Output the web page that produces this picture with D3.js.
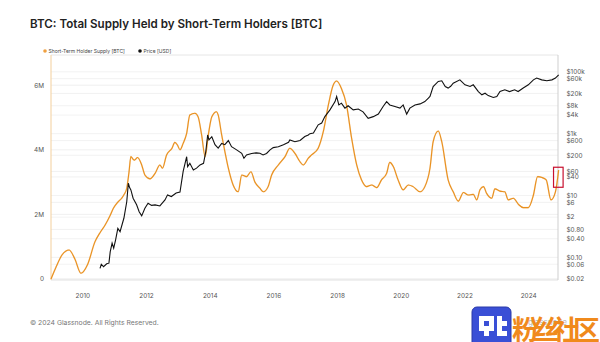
<!DOCTYPE html>
<html><head><meta charset="utf-8">
<script src="https://cdn.jsdelivr.net/npm/d3@7"></script>
<style>body{margin:0;background:#fff;}svg{display:block;font-family:Inter,"Noto Sans",sans-serif;}</style>
</head><body>
<svg id="c" width="600" height="342"></svg>
<script>
// Short-Term Holder Supply (millions BTC), by decimal year
const sthYears = [2009.0,2009.15,2009.35,2009.57,2009.75,2009.94,2010.15,2010.38,2010.55,2010.70,2010.85,2010.96,2011.10,2011.22,2011.30,2011.38,2011.45,2011.51,2011.57,2011.62,2011.72,2011.85,2011.95,2012.11,2012.27,2012.42,2012.50,2012.63,2012.80,2012.89,2012.97,2013.05,2013.15,2013.26,2013.36,2013.52,2013.62,2013.73,2013.84,2013.94,2014.05,2014.20,2014.25,2014.36,2014.47,2014.57,2014.72,2014.88,2014.99,2015.14,2015.28,2015.40,2015.56,2015.67,2015.82,2015.93,2016.14,2016.35,2016.50,2016.66,2016.82,2016.92,2017.08,2017.18,2017.39,2017.55,2017.71,2017.86,2017.97,2018.12,2018.28,2018.44,2018.60,2018.75,2018.91,2019.07,2019.23,2019.38,2019.54,2019.64,2019.75,2019.90,2020.06,2020.22,2020.37,2020.59,2020.74,2020.90,2021.00,2021.16,2021.27,2021.47,2021.63,2021.79,2021.95,2022.10,2022.26,2022.37,2022.47,2022.58,2022.68,2022.84,2022.94,2023.10,2023.25,2023.36,2023.52,2023.68,2023.83,2023.99,2024.15,2024.28,2024.42,2024.55,2024.70,2024.84,2024.94];
const sthValues = [0.0,0.35,0.75,0.90,0.62,0.18,0.45,1.15,1.45,1.67,1.95,2.19,2.38,2.50,2.62,2.81,3.30,3.79,3.72,3.68,3.76,3.53,3.22,3.10,3.27,3.53,3.43,3.84,4.05,4.23,4.15,4.00,4.20,4.51,5.08,5.13,5.02,4.46,3.79,4.46,5.02,5.18,5.08,4.46,3.90,3.43,2.91,2.70,3.22,3.17,3.32,3.01,2.81,2.70,2.86,3.22,3.53,3.79,4.05,3.89,3.63,3.53,3.74,3.84,4.05,4.56,5.39,6.00,6.13,5.90,5.39,4.36,3.53,3.07,2.86,2.91,2.83,3.07,3.27,3.61,3.48,3.07,2.76,2.91,2.86,2.70,2.86,3.43,4.25,4.58,4.25,3.07,2.70,2.41,2.68,2.60,2.62,2.45,2.76,2.86,2.65,2.50,2.79,2.72,2.70,2.45,2.50,2.31,2.21,2.21,2.60,3.17,3.14,3.07,2.45,2.70,3.37];

// Price (USD), by decimal year
const priceYears = [2010.54,2010.58,2010.65,2010.75,2010.82,2010.86,2010.92,2010.97,2011.03,2011.10,2011.17,2011.29,2011.38,2011.43,2011.47,2011.51,2011.58,2011.69,2011.77,2011.85,2011.95,2012.05,2012.16,2012.27,2012.42,2012.58,2012.66,2012.78,2012.93,2013.05,2013.15,2013.26,2013.29,2013.36,2013.47,2013.57,2013.68,2013.79,2013.86,2013.92,2013.96,2014.05,2014.15,2014.25,2014.36,2014.46,2014.57,2014.67,2014.83,2014.99,2015.06,2015.14,2015.30,2015.45,2015.56,2015.66,2015.77,2015.88,2015.98,2016.14,2016.30,2016.46,2016.50,2016.66,2016.82,2016.97,2017.08,2017.13,2017.24,2017.39,2017.50,2017.60,2017.76,2017.92,2017.97,2018.04,2018.12,2018.23,2018.33,2018.49,2018.65,2018.80,2018.96,2019.12,2019.28,2019.43,2019.54,2019.64,2019.80,2019.96,2020.06,2020.17,2020.27,2020.43,2020.59,2020.74,2020.85,2020.90,2021.00,2021.16,2021.27,2021.38,2021.47,2021.55,2021.63,2021.84,2022.00,2022.16,2022.26,2022.42,2022.53,2022.63,2022.73,2022.89,2023.00,2023.10,2023.25,2023.40,2023.56,2023.67,2023.83,2023.99,2024.15,2024.25,2024.41,2024.57,2024.73,2024.84,2024.94];
const priceValues = [0.044,0.06,0.05,0.062,0.065,0.15,0.29,0.2,0.37,0.87,0.68,1.84,6.3,25,18,15.2,8.2,5.0,3.0,2.2,3.9,5.6,4.8,5.0,4.6,7.2,10.5,9.3,12,13,60,180,86,110,67,77,98,110,260,910,630,800,440,340,485,440,600,380,300,233,160,205,230,240,233,205,230,300,355,380,440,525,630,550,600,810,910,1000,1050,1930,2200,3560,5870,10900,15900,8500,9700,6700,8000,5870,6300,5100,3150,3560,4300,7600,10900,8500,7600,6700,8500,4300,6700,8500,9200,10900,14100,16000,33500,49000,51500,33500,29800,34000,43000,55000,38000,33500,38000,23000,18000,20300,17000,14800,16000,23000,26300,23000,26300,23000,30000,38000,55000,63000,55000,51500,55000,63000,80000];

const yearTicks = [2010,2012,2014,2016,2018,2020,2022,2024];
const leftTicks = [0,2,4,6];
const leftTickLabels = ["0","2M","4M","6M"];
const priceTicks = [100000,60000,20000,8000,4000,1000,600,200,60,40,10,6,2,0.8,0.4,0.1,0.06,0.02];
const priceTickLabels = ["$100k","$60k","$20k","$8k","$4k","$1k","$600","$200","$60","$40","$10","$6","$2","$0.80","$0.40","$0.10","$0.06","$0.02"];

const svg = d3.select("#c");
const L = 51, R = 558, T = 55, B = 280;
const toDate = y => { const yr = Math.floor(y); const s = new Date(Date.UTC(yr,0,1)), e = new Date(Date.UTC(yr+1,0,1)); return new Date(+s + (y-yr)*(e-s)); };
const x = d3.scaleUtc().domain([toDate(2009.0), toDate(2024.92)]).range([L, R]);
const yL = d3.scaleLinear().domain([0, 6.935]).range([279, T]);
const yR = d3.scaleLog().domain([0.02, 350000]).range([279, T]);

// title
svg.append("text").attr("x",30).attr("y",27.5).attr("font-size",11.6).attr("font-weight",600).attr("fill","#222")
  .text("BTC: Total Supply Held by Short-Term Holders [BTC]");

// gridlines
const grid = svg.append("g");
priceTicks.forEach(p => grid.append("line").attr("x1",L).attr("x2",R).attr("y1",yR(p)).attr("y2",yR(p)).attr("stroke","#efefef").attr("stroke-width",0.8));
leftTicks.forEach(v => grid.append("line").attr("x1",L).attr("x2",R).attr("y1",yL(v)).attr("y2",yL(v)).attr("stroke","#ececec").attr("stroke-width",0.8));
svg.append("line").attr("x1",L).attr("x2",R).attr("y1",T).attr("y2",T).attr("stroke","#e6e6e6");
svg.append("line").attr("x1",L).attr("x2",R).attr("y1",B).attr("y2",B).attr("stroke","#e2e2e2");
svg.append("line").attr("x1",L).attr("x2",L).attr("y1",T).attr("y2",B).attr("stroke","#f3cf9c").attr("stroke-width",1);
svg.append("line").attr("x1",R).attr("x2",R).attr("y1",T).attr("y2",B).attr("stroke","#cfcfcf").attr("stroke-width",1);

// axes labels
const lab = {fill:"#555", size:6.4};
leftTicks.forEach((v,i) => svg.append("text").attr("x",44).attr("y",yL(v)+2.3).attr("text-anchor","end").attr("font-size",lab.size).attr("fill",lab.fill).text(leftTickLabels[i]));
priceTicks.forEach((p,i) => svg.append("text").attr("x",566.5).attr("y",yR(p)+2.3).attr("font-size",lab.size).attr("fill",lab.fill).text(priceTickLabels[i]));
yearTicks.forEach(yr => svg.append("text").attr("x",x(toDate(yr))).attr("y",298).attr("text-anchor","middle").attr("font-size",lab.size).attr("fill",lab.fill).text(yr));

// legend
svg.append("circle").attr("cx",45).attr("cy",51).attr("r",1.8).attr("fill","#f0a040");
svg.append("text").attr("x",48.5).attr("y",52.8).attr("font-size",5.0).attr("fill","#444").text("Short-Term Holder Supply [BTC]");
svg.append("circle").attr("cx",140).attr("cy",51).attr("r",1.8).attr("fill","#111");
svg.append("text").attr("x",143.5).attr("y",52.8).attr("font-size",5.0).attr("fill","#444").text("Price [USD]");

// lines
const sth = sthYears.map((y,i)=>({d:toDate(y), v:sthValues[i]}));
const price = priceYears.map((y,i)=>({d:toDate(y), v:priceValues[i]}));
svg.append("path").datum(sth).attr("fill","none").attr("stroke","#f0a040").attr("stroke-width",1.6).attr("stroke-opacity",0.35)
  .attr("d", d3.line().x(d=>x(d.d)).y(d=>yL(d.v)).curve(d3.curveMonotoneX));
svg.append("path").datum(sth).attr("fill","none").attr("stroke","#e8901f").attr("stroke-width",1.1)
  .attr("d", d3.line().x(d=>x(d.d)).y(d=>yL(d.v)).curve(d3.curveMonotoneX));
svg.append("path").datum(price).attr("fill","none").attr("stroke","#111").attr("stroke-width",1.1)
  .attr("d", d3.line().x(d=>x(d.d)).y(d=>yR(d.v)));

// red annotation box
svg.append("rect").attr("x",x(toDate(2024.78))).attr("y",yL(3.46)).attr("width",x(toDate(2025.08))-x(toDate(2024.78))).attr("height",yL(2.84)-yL(3.46))
  .attr("fill","none").attr("stroke","#c8102e").attr("stroke-width",1.2);

// footer
svg.append("text").attr("x",30).attr("y",324.5).attr("font-size",6.8).attr("fill","#777").text("© 2024 Glassnode. All Rights Reserved.");
svg.append("text").attr("x",528).attr("y",325).attr("font-size",8).attr("fill","#888").attr("opacity",0.6).text("glassnode");

// watermark
const wm = svg.append("g");
wm.append("rect").attr("x",472).attr("y",307).attr("width",39).attr("height",42).attr("rx",5).attr("fill","#3a4fd6").attr("stroke","#2a3aa8");
const px = [[479,316],[484,316],[489,316],[497,316],[479,321],[489,321],[497,321],[502,321],[479,326],[484,326],[489,326],[497,326],[484,331],[497,331],[502,331]];
px.forEach(p=>wm.append("rect").attr("x",p[0]).attr("y",p[1]).attr("width",5).attr("height",5).attr("fill","#fff"));
wm.append("text").attr("x",512).attr("y",340).attr("font-size",27).attr("font-weight",700).attr("fill","#f08a1c")
  .attr("font-family","'Noto Sans CJK SC',sans-serif").attr("textLength",88).text("粉丝社区");
</script>
</body></html>
